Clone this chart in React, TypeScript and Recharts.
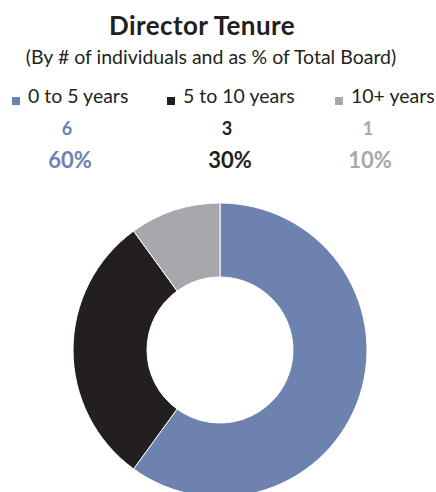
import React from 'react'
import { Cell, Pie, PieChart } from 'recharts'

const categories = ['0 to 5 years', '5 to 10 years', '10+ years']
const counts = [6, 3, 1]
const percents = ['60%', '30%', '10%']
const colors = ['#6E82B0', '#231F20', '#A7A8AB']

const FONT = 'Lato, "Open Sans", sans-serif'

const data = categories.map((name, i) => ({ name, value: counts[i] }))

// header columns (square x, label x, count centre, percent centre)
const squareX = [12, 167, 335]
const labelX = [28, 183, 351]
const numX = [67, 227, 368]
const pctX = [70, 230, 370]

const abs = (o: React.CSSProperties): React.CSSProperties => ({ position: 'absolute', whiteSpace: 'nowrap', ...o })

const Header = () => (
  <div style={abs({ top: 0, left: 0, width: 436, height: 180, fontFamily: FONT, color: '#231F20' })}>
    <div style={abs({ top: 9, left: 102, width: 200, textAlign: 'center', fontSize: 26, fontWeight: 700, letterSpacing: 0.4 })}>
      Director Tenure
    </div>
    <div style={abs({ top: 45, left: 11, width: 400, textAlign: 'center', fontSize: 19.5 })}>
      (By # of individuals and as % of Total Board)
    </div>
    {categories.map((c, i) => (
      <React.Fragment key={c}>
        <div style={abs({ top: 97, left: squareX[i], width: 8, height: 8, background: colors[i] })} />
        <div style={abs({ top: 84, left: labelX[i], fontSize: 19.5 })}>{c}</div>
        <div style={abs({ top: 117, left: numX[i] - 20, width: 40, textAlign: 'center', fontSize: 18, fontWeight: 700, color: colors[i] })}>
          {counts[i]}
        </div>
        <div style={abs({ top: 146, left: pctX[i] - 40, width: 80, textAlign: 'center', fontSize: 22, fontWeight: 700, color: colors[i] })}>
          {percents[i]}
        </div>
      </React.Fragment>
    ))}
  </div>
)

export default function App() {
  return (
    <div style={{ position: 'absolute', left: 0, top: 0, width: 436, height: 492, background: '#fff' }}>
      <PieChart width={436} height={492} margin={{ top: 0, right: 0, bottom: 0, left: 0 }}>
        <Pie
          data={data}
          dataKey="value"
          nameKey="name"
          cx={220}
          cy={350}
          innerRadius={73}
          outerRadius={147}
          startAngle={90}
          endAngle={-270}
          stroke="#fff"
          strokeWidth={1}
          isAnimationActive={false}
        >
          {data.map((d, i) => (
            <Cell key={d.name} fill={colors[i]} />
          ))}
        </Pie>
      </PieChart>
      <Header />
    </div>
  )
}
